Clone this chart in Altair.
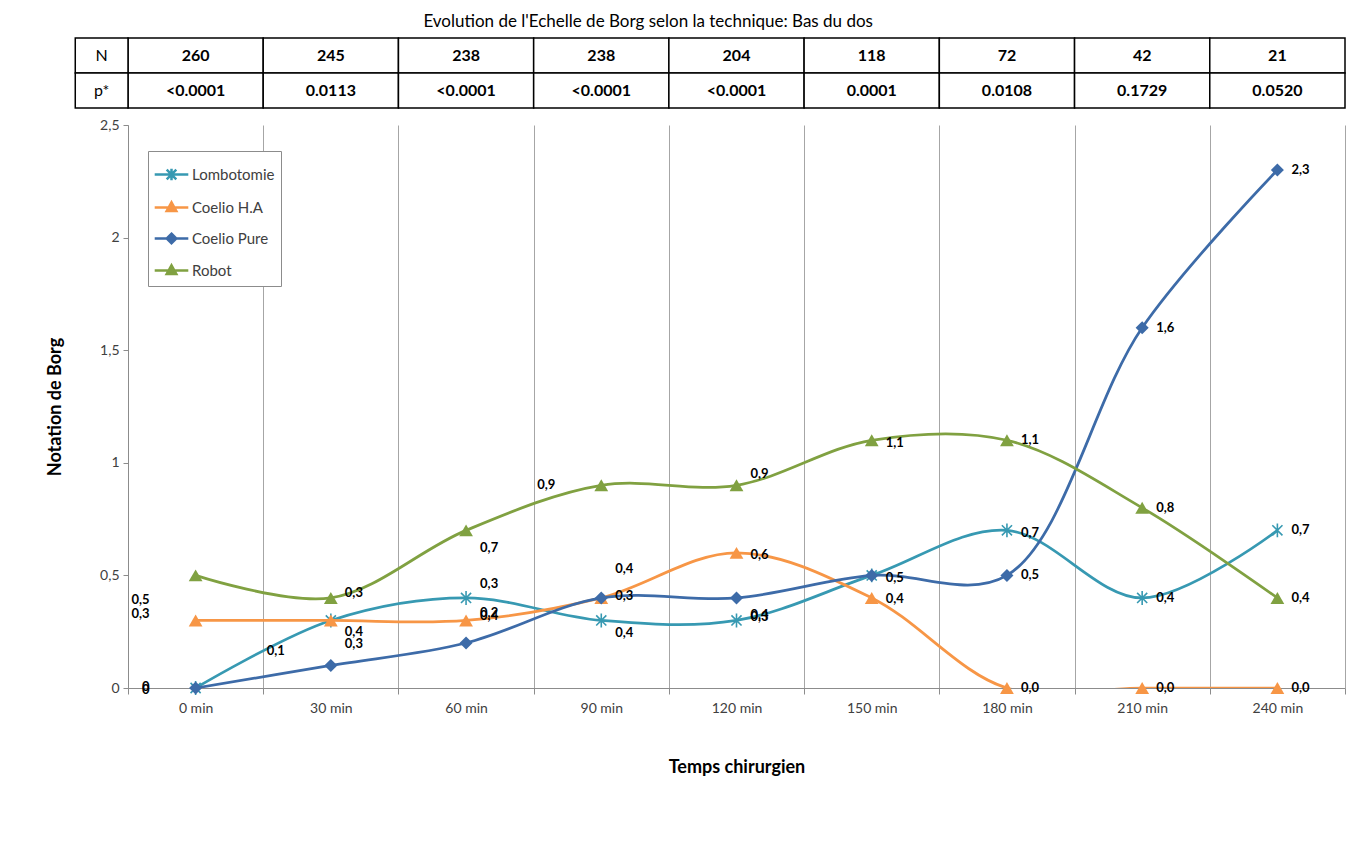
import altair as alt
import pandas as pd

FONT = "Lato"

# ---------------- data ----------------
times = ["0 min", "30 min", "60 min", "90 min", "120 min",
         "150 min", "180 min", "210 min", "240 min"]
series_names = ["Lombotomie", "Coelio H.A", "Coelio Pure", "Robot"]
lombotomie = [0.0, 0.3, 0.4, 0.3, 0.3, 0.5, 0.7, 0.4, 0.7]
coelio_ha = [0.3, 0.3, 0.3, 0.4, 0.6, 0.4, 0.0, 0.0, 0.0]
coelio_pure = [0.0, 0.1, 0.2, 0.4, 0.4, 0.5, 0.5, 1.6, 2.3]
robot = [0.5, 0.4, 0.7, 0.9, 0.9, 1.1, 1.1, 0.8, 0.4]

n_values = ["260", "245", "238", "238", "204", "118", "72", "42", "21"]
p_values = ["<0.0001", "0.0113", "<0.0001", "<0.0001", "<0.0001",
            "0.0001", "0.0108", "0.1729", "0.0520"]
row_names = ["N", "p*"]

# data labels as they appear (text and vertical position)
lab_right_time = ["30 min", "30 min", "30 min",
                  "60 min", "60 min", "60 min", "60 min",
                  "90 min", "90 min", "90 min",
                  "120 min", "120 min", "120 min", "120 min",
                  "150 min", "150 min", "150 min",
                  "180 min", "180 min", "180 min", "180 min",
                  "210 min", "210 min", "210 min", "210 min",
                  "240 min", "240 min", "240 min", "240 min"]
lab_right_text = ["0,3", "0,4", "0,3",
                  "0,7", "0,3", "0,2", "0,4",
                  "0,4", "0,3", "0,4",
                  "0,9", "0,6", "0,4", "0,3",
                  "1,1", "0,5", "0,4",
                  "1,1", "0,7", "0,5", "0,0",
                  "1,6", "0,8", "0,4", "0,0",
                  "2,3", "0,7", "0,4", "0,0"]
lab_right_pos = [0.42, 0.25, 0.195,
                 0.62, 0.46, 0.335, 0.32,
                 0.53, 0.41, 0.245,
                 0.95, 0.59, 0.325, 0.315,
                 1.09, 0.49, 0.395,
                 1.10, 0.69, 0.50, 0.0,
                 1.60, 0.80, 0.40, 0.0,
                 2.30, 0.70, 0.40, 0.0]
lab_left_time = ["0 min", "0 min", "0 min", "0 min", "30 min", "90 min"]
lab_left_text = ["0,5", "0,3", "0", "0", "0,1", "0,9"]
lab_left_pos = [0.39, 0.33, 0.005, -0.008, 0.165, 0.90]

colors = ["#3799b2", "#f79646", "#3d6ba8", "#80a141"]

# ---------------- frames ----------------
rows = []
for s, vals in zip(series_names, [lombotomie, coelio_ha, coelio_pure, robot]):
    for t, v in zip(times, vals):
        rows.append({"series": s, "time": t, "value": v})
df = pd.DataFrame(rows)

lab_r = pd.DataFrame({"time": lab_right_time, "text": lab_right_text, "pos": lab_right_pos})
lab_l = pd.DataFrame({"time": lab_left_time, "text": lab_left_text, "pos": lab_left_pos})

HEADER_W = 0.39  # header column width in column units
trows = []
for i in range(len(times)):
    trows.append({"row": "N", "x0": i, "x1": i + 1, "xm": i + 0.5, "text": n_values[i], "hdr": 0})
    trows.append({"row": "p*", "x0": i, "x1": i + 1, "xm": i + 0.5, "text": p_values[i], "hdr": 0})
for r in row_names:
    trows.append({"row": r, "x0": -HEADER_W, "x1": 0, "xm": -HEADER_W / 2, "text": r, "hdr": 1})
tdf = pd.DataFrame(trows)

# ---------------- scales ----------------
W, H = 1217, 563
x_scale = alt.Scale(type="band", domain=times, paddingInner=0, paddingOuter=0)
y_scale = alt.Scale(domain=[0, 2.5], nice=False, zero=True)

x_axis = alt.Axis(title="Temps chirurgien", tickBand="extent", grid=True,
                  gridColor="#a6a6a6", gridWidth=1, domainColor="#8c8c8c",
                  tickColor="#8c8c8c", tickSize=6, labelAngle=0,
                  labelFont=FONT, labelFontSize=14, labelColor="#404040",
                  labelPadding=7, titleFont=FONT, titleFontSize=18,
                  titleFontWeight="bold", titleColor="black", titlePadding=43)
y_axis = alt.Axis(title="Notation de Borg", grid=False, values=[0, 0.5, 1, 1.5, 2, 2.5],
                  labelExpr="replace(toString(datum.value), '.', ',')",
                  domainColor="#8c8c8c", tickColor="#8c8c8c", tickSize=5,
                  labelFont=FONT, labelFontSize=14, labelColor="#404040",
                  labelPadding=4, titleFont=FONT, titleFontSize=18,
                  titleFontWeight="bold", titleColor="black", titlePadding=35)

X = alt.X("time:N", scale=x_scale, axis=x_axis, sort=times)
Y = alt.Y("value:Q", scale=y_scale, axis=y_axis)

marker_specs = {
    "Lombotomie": dict(shape="M-0.8,-0.8L0.8,0.8M-0.8,0.8L0.8,-0.8M0,-1.1L0,1.1",
                       filled=False, size=160, strokeWidth=1.6),
    "Coelio H.A": dict(shape="triangle-up", filled=True, size=190),
    "Coelio Pure": dict(shape="diamond", filled=True, size=170),
    "Robot": dict(shape="triangle-up", filled=True, size=190),
}
series_layers = []
for s, c in zip(series_names, colors):
    spec = marker_specs[s]
    base = alt.Chart(df).transform_filter(alt.datum.series == s).encode(x=X, y=Y)
    series_layers.append(base.mark_line(interpolate="catmull-rom", strokeWidth=2.75,
                                        color=c, clip=True))
    series_layers.append(base.mark_point(opacity=1, color=c, **spec))

labels_right = alt.Chart(lab_r).mark_text(align="left", baseline="middle", dx=14,
                                          font=FONT, fontSize=13, fontWeight="bold",
                                          color="black").encode(
    x=alt.X("time:N", scale=x_scale, sort=times),
    y=alt.Y("pos:Q", scale=y_scale), text="text:N")
labels_left = alt.Chart(lab_l).mark_text(align="right", baseline="middle", dx=-46,
                                         font=FONT, fontSize=13, fontWeight="bold",
                                         color="black").encode(
    x=alt.X("time:N", scale=x_scale, sort=times),
    y=alt.Y("pos:Q", scale=y_scale), text="text:N")

# legend: line + marker symbols built as custom paths
legend_paths = [
    "M-1.05,0H1.05M-0.3,-0.3L0.3,0.3M-0.3,0.3L0.3,-0.3M0,-0.36V0.36",
    "M-1.05,0H1.05M0,-0.32L0.3,0.22L-0.3,0.22Z",
    "M-1.05,0H1.05M0,-0.3L0.3,0L0,0.3L-0.3,0Z",
    "M-1.05,0H1.05M0,-0.32L0.3,0.22L-0.3,0.22Z",
]
leg = dict(title=None, orient="none", legendX=20, legendY=26)
legend_layer = alt.Chart(df).transform_filter("datum.value < -1").mark_point(
    filled=True, opacity=1, strokeWidth=2.5).encode(
    color=alt.Color("series:N", scale=alt.Scale(domain=series_names, range=colors),
                    legend=alt.Legend(**leg)),
    stroke=alt.Stroke("series:N", scale=alt.Scale(domain=series_names, range=colors),
                      legend=alt.Legend(**leg)),
    shape=alt.Shape("series:N", scale=alt.Scale(domain=series_names, range=legend_paths),
                    legend=alt.Legend(**leg)),
)

main = alt.layer(*series_layers, labels_right, labels_left, legend_layer).properties(
    width=W, height=H)

# ---------------- table ----------------
tscale = alt.Scale(domain=[0, 9], nice=False, zero=False)
ty = alt.Y("row:N", scale=alt.Scale(domain=row_names, paddingInner=0, paddingOuter=0), axis=None)
cells = alt.Chart(tdf).mark_rect(fill="white", stroke="black", strokeWidth=1.5).encode(
    x=alt.X("x0:Q", scale=tscale, axis=None), x2="x1:Q", y=ty)
cell_text = alt.Chart(tdf).transform_filter("datum.hdr == 0").mark_text(
    font=FONT, fontSize=16, fontWeight="bold", color="black").encode(
    x=alt.X("xm:Q", scale=tscale, axis=None), y=ty, text="text:N")
hdr_text = alt.Chart(tdf).transform_filter("datum.hdr == 1").mark_text(
    font=FONT, fontSize=16, color="black").encode(
    x=alt.X("xm:Q", scale=tscale, axis=None), y=ty, text="text:N")
table = alt.layer(cells, cell_text, hdr_text).properties(width=W, height=70)

chart = alt.vconcat(table, main, spacing=9).resolve_scale(
    color="independent", shape="independent", stroke="independent", x="independent"
).properties(
    title=alt.TitleParams("Evolution de l'Echelle de Borg selon la technique: Bas du dos",
                          font=FONT, fontSize=17, fontWeight="normal", color="black",
                          anchor="middle", dx=-48, offset=6),
    padding={"left": 38, "top": 5, "right": 10, "bottom": 60},
).configure_view(stroke=None).configure_legend(
    fillColor="white", strokeColor="#8c8c8c", padding=6, symbolSize=1024,
    symbolStrokeWidth=2.5, labelFont=FONT, labelFontSize=15, labelColor="#404040",
    rowPadding=4, labelOffset=3,
)

chart.save("out.html", embed_options={"renderer": "svg", "actions": False})
